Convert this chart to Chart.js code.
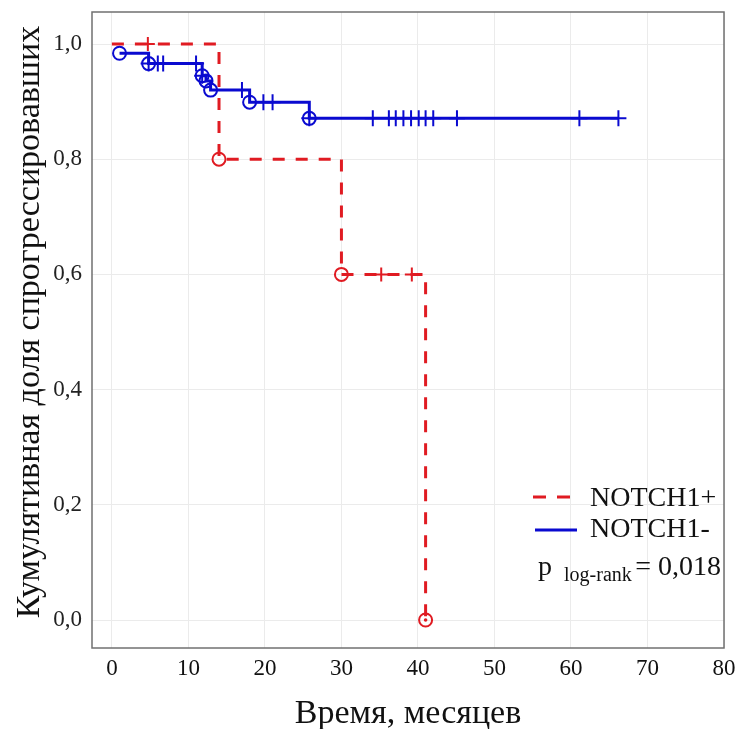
<!DOCTYPE html>
<html>
<head>
<meta charset="utf-8">
<script src="https://cdn.jsdelivr.net/npm/chart.js@4/dist/chart.umd.min.js"></script>
<style>
  html, body { margin: 0; padding: 0; background: #ffffff; }
  #wrap { width: 738px; height: 729px; }
</style>
</head>
<body>
<div id="wrap"><canvas id="c" width="738" height="729"></canvas></div>
<script>
// ---- data ----
const xTicks = [0, 10, 20, 30, 40, 50, 60, 70, 80];
const yTicks = [0.0, 0.2, 0.4, 0.6, 0.8, 1.0];

// NOTCH1+ (red, dashed)
const redStepT = [0, 14, 30, 41];
const redStepS = [1.0, 0.8, 0.6, 0.0];
const redEventT = [14, 30, 41];
const redEventS = [0.8, 0.6, 0.0];
const redCensT = [4.7, 35.2, 39.2];
const redCensS = [1.0, 0.6, 0.6];

// NOTCH1- (blue, solid)
const blueStepT = [1, 4.8, 11.8, 12.3, 12.9, 18, 25.8, 66.2];
const blueStepS = [0.984, 0.966, 0.945, 0.936, 0.920, 0.899, 0.871, 0.871];
const blueEventT = [1, 4.8, 11.8, 12.3, 12.9, 18, 25.8];
const blueEventS = [0.984, 0.966, 0.945, 0.936, 0.920, 0.899, 0.871];
const blueCensT = [4.8, 6.0, 6.7, 11.0, 11.8, 17.0, 19.8, 21.0, 25.8, 34.1, 36.2, 37.1, 38.1, 39.1, 40.1, 41.0, 42.0, 45.1, 61.1, 66.2];
const blueCensS = [0.966, 0.966, 0.966, 0.966, 0.945, 0.920, 0.899, 0.899, 0.871, 0.871, 0.871, 0.871, 0.871, 0.871, 0.871, 0.871, 0.871, 0.871, 0.871, 0.871];

const seriesNames = ['NOTCH1+', 'NOTCH1-'];
const xTitle = 'Время, месяцев';
const yTitle = 'Кумулятивная доля спрогрессировавших';
const pLabel = ['p', 'log-rank', '= 0,018'];

const RED = '#e01b22';
const BLUE = '#0a0ad0';
const FONT = '"Liberation Serif", "Times New Roman", serif';

function pts(t, s) { return t.map((v, i) => ({ x: v, y: s[i] })); }

const frameAndText = {
  id: 'frameAndText',
  afterDatasetsDraw(chart) {
    const ctx = chart.ctx;
    const a = chart.chartArea;
    ctx.save();
    // frame
    ctx.strokeStyle = '#707070';
    ctx.lineWidth = 1.5;
    ctx.strokeRect(a.left, a.top, a.right - a.left, a.bottom - a.top);

    // legend samples
    ctx.lineWidth = 3;
    ctx.strokeStyle = RED;
    ctx.setLineDash([13, 11]);
    ctx.beginPath(); ctx.moveTo(533, 497); ctx.lineTo(571, 497); ctx.stroke();
    ctx.setLineDash([]);
    ctx.strokeStyle = BLUE;
    ctx.beginPath(); ctx.moveTo(535, 530); ctx.lineTo(577, 530); ctx.stroke();

    ctx.fillStyle = '#111111';
    ctx.textBaseline = 'alphabetic';
    ctx.textAlign = 'left';
    ctx.font = '28px ' + FONT;
    ctx.fillText(seriesNames[0], 590, 506);
    ctx.fillText(seriesNames[1], 590, 537);
    ctx.fillText(pLabel[0], 538, 575);
    ctx.font = '20px ' + FONT;
    ctx.fillText(pLabel[1], 564, 581);
    ctx.textAlign = 'right';
    ctx.font = '28px ' + FONT;
    ctx.fillText(pLabel[2], 721, 575);

    // axis titles
    ctx.textAlign = 'center';
    ctx.font = '34px ' + FONT;
    ctx.fillText(xTitle, (a.left + a.right) / 2, 723);
    ctx.save();
    ctx.translate(39, 322);
    ctx.rotate(-Math.PI / 2);
    ctx.fillText(yTitle, 0, 0);
    ctx.restore();
    ctx.restore();
  }
};

new Chart(document.getElementById('c'), {
  type: 'scatter',
  data: {
    datasets: [
      { data: pts(redEventT, redEventS), pointStyle: 'circle', pointRadius: 6.5, pointBorderWidth: 2,
        pointBorderColor: RED, pointBackgroundColor: 'rgba(255,255,255,0)', showLine: false, order: 0 },
      { data: [{ x: redEventT[2], y: redEventS[2] }], pointStyle: 'circle', pointRadius: 1.8, pointBorderWidth: 0,
        pointBackgroundColor: RED, showLine: false, order: 0 },
      { data: pts(redCensT, redCensS), pointStyle: 'cross', pointRadius: 7, pointBorderWidth: 2,
        pointBorderColor: RED, showLine: false, order: 0 },
      { data: pts(blueEventT, blueEventS), pointStyle: 'circle', pointRadius: 6.5, pointBorderWidth: 2,
        pointBorderColor: BLUE, pointBackgroundColor: 'rgba(255,255,255,0)', showLine: false, order: 0 },
      { data: pts(blueCensT, blueCensS), pointStyle: 'cross', pointRadius: 8, pointBorderWidth: 2,
        pointBorderColor: BLUE, showLine: false, order: 0 },
      { data: pts(redStepT, redStepS), showLine: true, stepped: 'before', borderColor: RED, borderWidth: 3,
        borderDash: [12, 11], pointRadius: 0, fill: false, order: 1 },
      { data: pts(blueStepT, blueStepS), showLine: true, stepped: 'before', borderColor: BLUE, borderWidth: 3,
        pointRadius: 0, fill: false, order: 1 }
    ]
  },
  options: {
    responsive: false,
    animation: false,
    events: [],
    layout: { padding: { left: 0, top: 12, right: 14, bottom: 0 } },
    plugins: { legend: { display: false }, tooltip: { enabled: false }, title: { display: false } },
    scales: {
      x: {
        type: 'linear', min: -2.6, max: 80,
        afterBuildTicks: s => { s.ticks = xTicks.map(v => ({ value: v })); },
        afterFit: s => { s.height = 81; s.paddingLeft = 0; s.paddingRight = 0; },
        grid: { color: '#ebebeb', lineWidth: 1, drawTicks: false },
        border: { display: false },
        ticks: { padding: 7, color: '#111', font: { family: FONT, size: 23 }, maxRotation: 0,
                 callback: v => String(v) }
      },
      y: {
        type: 'linear', min: -0.0486, max: 1.0556,
        afterBuildTicks: s => { s.ticks = yTicks.map(v => ({ value: v })); },
        afterFit: s => { s.width = 92; s.paddingTop = 0; s.paddingBottom = 0; },
        grid: { color: '#ebebeb', lineWidth: 1, drawTicks: false },
        border: { display: false },
        ticks: { padding: 10, color: '#222', font: { family: FONT, size: 23 },
                 callback: v => Number(v).toFixed(1).replace('.', ',') }
      }
    }
  },
  plugins: [frameAndText]
});
</script>
</body>
</html>
